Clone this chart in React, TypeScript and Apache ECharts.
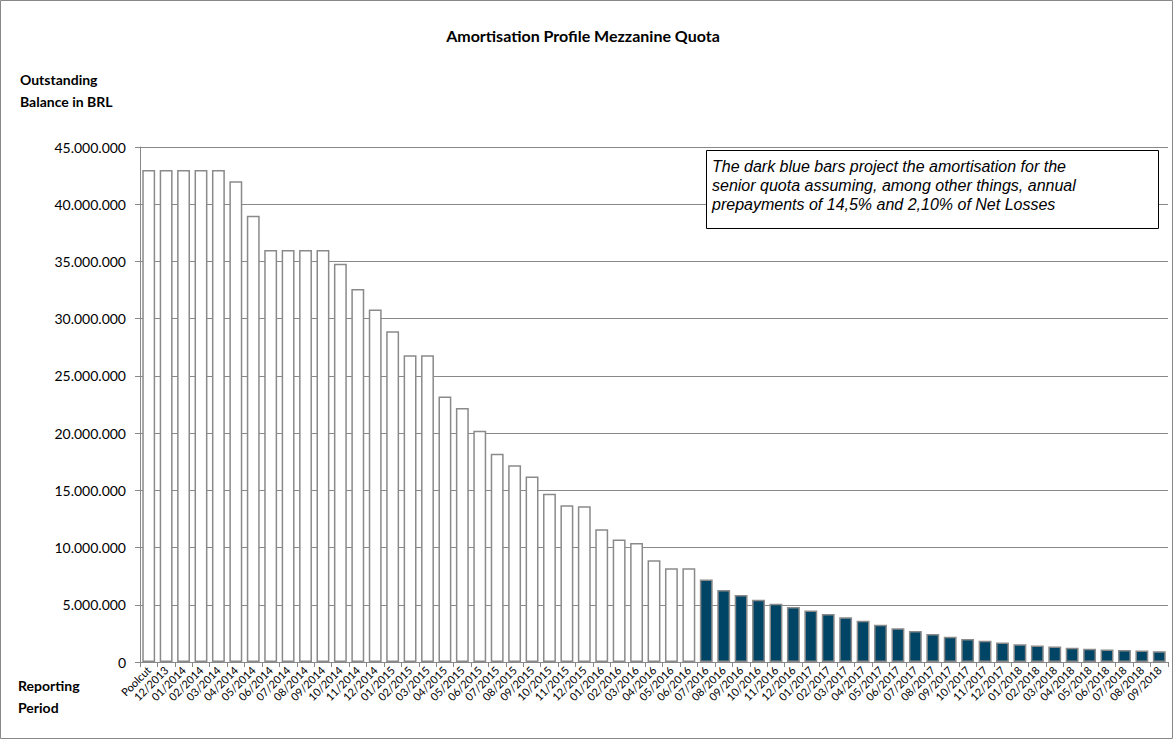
import React, { useEffect, useRef } from "react";
import * as echarts from "echarts";

const categories = ["Poolcut","12/2013","01/2014","02/2014","03/2014","04/2014","05/2014","06/2014","07/2014","08/2014","09/2014","10/2014","11/2014","12/2014","01/2015","02/2015","03/2015","04/2015","05/2015","06/2015","07/2015","08/2015","09/2015","10/2015","11/2015","12/2015","01/2016","02/2016","03/2016","04/2016","05/2016","06/2016","07/2016","08/2016","09/2016","10/2016","11/2016","12/2016","01/2017","02/2017","03/2017","04/2017","05/2017","06/2017","07/2017","08/2017","09/2017","10/2017","11/2017","12/2017","01/2018","02/2018","03/2018","04/2018","05/2018","06/2018","07/2018","08/2018","09/2018"];
const actualValues = [43,43,43,43,43,42,39,36,36,36,36,34.8,32.6,30.8,28.9,26.8,26.8,23.2,22.2,20.2,18.2,17.2,16.2,14.7,13.7,13.6,11.6,10.7,10.4,8.9,8.2,8.2].map(v => v * 1e6);
const projectedValues = [7.2,6.3,5.85,5.45,5.1,4.8,4.5,4.2,3.9,3.6,3.25,2.95,2.7,2.45,2.2,2.0,1.85,1.7,1.55,1.45,1.35,1.25,1.15,1.1,1.05,1.0,0.95].map(v => v * 1e6);

const fmt = (v: number) => v === 0 ? "0" : String(Math.round(v)).replace(/\B(?=(\d{3})+(?!\d))/g, ".");

export default function App() {
  const ref = useRef<HTMLDivElement>(null);
  useEffect(() => {
    document.body.style.margin = "0";
    const chart = echarts.init(ref.current!, null, { renderer: "svg" });
    const data = [
      ...actualValues.map(v => ({ value: v, itemStyle: { color: "#ffffff", borderColor: "#8a8a8a", borderWidth: 1.5 } })),
      ...projectedValues.map(v => ({ value: v, itemStyle: { color: "#004565", borderColor: "#8a8a8a", borderWidth: 1.5 } })),
    ];
    chart.setOption({
      animation: false,
      textStyle: { fontFamily: "Lato" },
      grid: { left: 140, right: 6, top: 147, bottom: 78 },
      title: { text: "Amortisation Profile Mezzanine Quota", left: 578, textAlign: "center", top: 22, textStyle: { fontSize: 16, fontWeight: "bold", color: "#000", fontFamily: "Lato" } },
      xAxis: {
        type: "category", data: categories,
        axisLine: { lineStyle: { color: "#888" } },
        axisTick: { show: true, lineStyle: { color: "#888" } },
        axisLabel: { interval: 0, rotate: 45, fontSize: 11, color: "#000", margin: 6 },
      },
      yAxis: {
        type: "value", min: 0, max: 45000000, interval: 5000000,
        axisLine: { show: true, lineStyle: { color: "#888" } },
        axisTick: { show: true, lineStyle: { color: "#888" } },
        splitLine: { lineStyle: { color: "#888", width: 1 } },
        axisLabel: { formatter: fmt, fontSize: 14, color: "#000", margin: 14 },
      },
      series: [{ type: "bar", data, barCategoryGap: "26%" }],
      graphic: [
        { type: "rect", shape: { x: 0.5, y: 0.5, width: 1172, height: 738 }, style: { fill: "none", stroke: "#888", lineWidth: 1 }, silent: true },
        { type: "text", left: 20, top: 68, style: { text: "Outstanding\nBalance in BRL", font: "bold 14px Lato", fill: "#000", lineHeight: 22 } },
        { type: "text", left: 18, top: 674, style: { text: "Reporting\nPeriod", font: "bold 14px Lato", fill: "#000", lineHeight: 22 } },
        { type: "rect", shape: { x: 706.5, y: 150.5, width: 452, height: 78 }, style: { fill: "#fff", stroke: "#000", lineWidth: 1 }, z: 100 },
        { type: "text", left: 712, top: 157, z: 101, style: { text: "The dark blue bars project the amortisation for the\nsenior quota assuming, among other things, annual\nprepayments of 14,5% and 2,10% of Net Losses", font: "italic 16px 'Liberation Sans'", fill: "#000", lineHeight: 19 } },
      ],
    });
    return () => chart.dispose();
  }, []);
  return <div ref={ref} style={{ width: 1174, height: 740 }} />;
}
